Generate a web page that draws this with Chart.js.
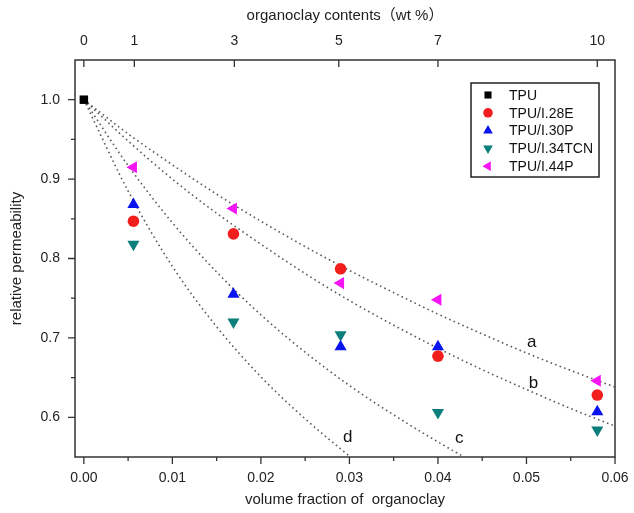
<!DOCTYPE html>
<html lang="en">
<head>
    <meta charset="UTF-8">
    <title>Relative permeability vs organoclay</title>
    <style>
        html, body { margin: 0; padding: 0; background: #fff; }
        #wrap { width: 634px; height: 513px; }
    </style>
    <script src="https://cdn.jsdelivr.net/npm/chart.js@4.4.0/dist/chart.umd.min.js"></script>
</head>
<body>
    <div id="wrap"><canvas id="perm-chart" width="634" height="513"></canvas></div>
    <script>
        // x positions (volume fraction) of the composites, matching 1/3/5/7/10 wt%
        const phi = [0.0056, 0.0169, 0.0290, 0.0400, 0.0580];
        const wtLabels = ['0', '1', '3', '5', '7', '10'];
        const wtPositions = [0, 0.0057, 0.0170, 0.0288, 0.0400, 0.0580];

        const tpu = [1.0];
        const i28e = [0.847, 0.831, 0.787, 0.677, 0.628];
        const i30p = [0.868, 0.755, 0.689, 0.689, 0.607];
        const i34tcn = [0.818, 0.720, 0.704, 0.606, 0.584];
        const i44p = [0.915, 0.863, 0.769, 0.748, 0.646];

        // dotted model curves
        const curveX = [0, 0.005, 0.01, 0.015, 0.02, 0.025, 0.03, 0.035, 0.04, 0.045, 0.05, 0.055, 0.06];
        const curveA = [1.0, 0.957, 0.918, 0.881, 0.847, 0.815, 0.785, 0.757, 0.730, 0.705, 0.681, 0.659, 0.638];
        const curveB = [1.0, 0.948, 0.900, 0.857, 0.818, 0.781, 0.747, 0.716, 0.687, 0.660, 0.635, 0.611, 0.589];
        const curveCX = [0, 0.005, 0.01, 0.015, 0.02, 0.025, 0.03, 0.035, 0.04, 0.0428];
        const curveC = [1.0, 0.917, 0.845, 0.783, 0.729, 0.682, 0.640, 0.603, 0.569, 0.551];
        const curveDX = [0, 0.005, 0.01, 0.015, 0.02, 0.025, 0.03];
        const curveD = [1.0, 0.885, 0.790, 0.714, 0.651, 0.598, 0.551];
        const curveNames = ['a', 'b', 'c', 'd'];
        const curveNameX = [0.0506, 0.0508, 0.0424, 0.0298];
        const curveNameY = [0.694, 0.643, 0.574, 0.575];

        const xTicks = [0, 0.01, 0.02, 0.03, 0.04, 0.05, 0.06];
        const xMinor = [0.005, 0.015, 0.025, 0.035, 0.045, 0.055];
        const yTicks = [0.6, 0.7, 0.8, 0.9, 1.0];
        const yMinor = [0.65, 0.75, 0.85, 0.95];

        const FONT = "'Liberation Sans', Arial, 'Noto Sans CJK SC', sans-serif";
        const AXIS = '#333';

        function pts(xs, ys) {
            return ys.map((v, i) => ({x: xs[i], y: v}));
        }

        function marker(label, data, color, style, rotation, radius, legendRadius) {
            return {
                label: label, data: data, showLine: false,
                backgroundColor: color, borderColor: color, borderWidth: 0,
                pointStyle: style, rotation: rotation, pointRadius: radius, pointHoverRadius: radius,
                legendRadius: legendRadius
            };
        }

        function curve(xs, ys) {
            return {
                label: '', data: pts(xs, ys), showLine: true,
                borderColor: '#5a5a5a', borderWidth: 1.6, borderDash: [1.6, 3.2],
                pointRadius: 0, pointHoverRadius: 0, fill: false,
                cubicInterpolationMode: 'monotone'
            };
        }

        const markerSets = [
            marker('TPU', [{x: 0, y: tpu[0]}], '#000', 'rect', 0, 6, 5),
            marker('TPU/I.28E', pts(phi, i28e), '#f21d1d', 'circle', 0, 5.8, 4.8),
            marker('TPU/I.30P', pts(phi, i30p), '#0a14f0', 'triangle', 0, 7, 5.6),
            marker('TPU/I.34TCN', pts(phi, i34tcn), '#0c7f7c', 'triangle', 180, 7, 5.6),
            marker('TPU/I.44P', pts(phi, i44p), '#f414f4', 'triangle', 270, 7, 5.6)
        ];

        const drawExtras = {
            id: 'drawExtras',
            afterDraw(chart) {
                const ctx = chart.ctx, a = chart.chartArea;
                const xs = chart.scales.x, ys = chart.scales.y, xt = chart.scales.xTop;
                ctx.save();
                ctx.strokeStyle = AXIS;
                ctx.lineWidth = 1.5;
                ctx.strokeRect(a.left, a.top, a.right - a.left, a.bottom - a.top);
                ctx.lineWidth = 1.3;
                ctx.beginPath();
                xTicks.forEach(v => { const p = xs.getPixelForValue(v); ctx.moveTo(p, a.bottom); ctx.lineTo(p, a.bottom + 7); });
                xMinor.forEach(v => { const p = xs.getPixelForValue(v); ctx.moveTo(p, a.bottom); ctx.lineTo(p, a.bottom + 4); });
                yTicks.forEach(v => { const p = ys.getPixelForValue(v); ctx.moveTo(a.left, p); ctx.lineTo(a.left - 7, p); });
                yMinor.forEach(v => { const p = ys.getPixelForValue(v); ctx.moveTo(a.left, p); ctx.lineTo(a.left - 4, p); });
                wtPositions.forEach(v => { const p = xt.getPixelForValue(v); ctx.moveTo(p, a.top); ctx.lineTo(p, a.top + 7); });
                ctx.stroke();

                // curve names
                ctx.fillStyle = '#111';
                ctx.font = '17px ' + FONT;
                ctx.textAlign = 'center';
                ctx.textBaseline = 'middle';
                curveNames.forEach((t, i) => {
                    ctx.fillText(t, xs.getPixelForValue(curveNameX[i]), ys.getPixelForValue(curveNameY[i]));
                });

                // legend box inside the plot
                const bx = 471, by = 83, bw = 128, bh = 94;
                ctx.fillStyle = '#fff';
                ctx.fillRect(bx, by, bw, bh);
                ctx.lineWidth = 1.5;
                ctx.strokeStyle = '#222';
                ctx.strokeRect(bx, by, bw, bh);
                ctx.font = '14px ' + FONT;
                ctx.textAlign = 'left';
                markerSets.forEach((ds, i) => {
                    const cy = by + 12 + i * 17.8;
                    ctx.fillStyle = ds.backgroundColor;
                    ctx.strokeStyle = ds.backgroundColor;
                    Chart.helpers.drawPoint(ctx, {
                        pointStyle: ds.pointStyle, rotation: ds.rotation,
                        radius: ds.legendRadius, borderWidth: 0
                    }, bx + 17, cy);
                    ctx.fillStyle = '#111';
                    ctx.fillText(ds.label, bx + 38, cy + 1);
                });
                ctx.restore();
            }
        };

        const tickFont = {family: FONT, size: 14};
        const titleFont = {family: FONT, size: 15};

        function fitX(h) {
            return s => { s.height = h; s.paddingLeft = 0; s.paddingRight = 0; };
        }

        new Chart(document.getElementById('perm-chart').getContext('2d'), {
            type: 'scatter',
            data: {
                datasets: markerSets.concat([
                    curve(curveX, curveA),
                    curve(curveX, curveB),
                    curve(curveCX, curveC),
                    curve(curveDX, curveD)
                ])
            },
            options: {
                responsive: false,
                animation: false,
                layout: {padding: {left: 0, right: 19, top: 0, bottom: 0}},
                plugins: {legend: {display: false}, tooltip: {enabled: false}},
                scales: {
                    x: {
                        type: 'linear', position: 'bottom', min: -0.001, max: 0.06,
                        afterBuildTicks: s => { s.ticks = xTicks.map(v => ({value: v})); },
                        afterFit: fitX(56),
                        grid: {display: false, drawTicks: false},
                        border: {display: false},
                        ticks: {font: tickFont, color: '#222', padding: 13, maxRotation: 0,
                            callback: v => Number(v).toFixed(2)},
                        title: {display: true, text: 'volume fraction of  organoclay', font: titleFont,
                            color: '#222', padding: {top: 0, bottom: 4}}
                    },
                    xTop: {
                        type: 'linear', position: 'top', min: -0.001, max: 0.06,
                        afterBuildTicks: s => { s.ticks = wtPositions.map(v => ({value: v})); },
                        afterFit: fitX(60),
                        grid: {display: false, drawTicks: false},
                        border: {display: false},
                        ticks: {font: tickFont, color: '#222', padding: 10, maxRotation: 0,
                            callback: (v, i) => wtLabels[i]},
                        title: {display: true, text: 'organoclay contents（wt %）', font: titleFont,
                            color: '#222', padding: {top: 7, bottom: 0}}
                    },
                    y: {
                        type: 'linear', position: 'left', min: 0.55, max: 1.05,
                        afterBuildTicks: s => { s.ticks = yTicks.map(v => ({value: v})); },
                        afterFit: s => { s.width = 75; s.paddingTop = 0; s.paddingBottom = 0; },
                        grid: {display: false, drawTicks: false},
                        border: {display: false},
                        ticks: {font: tickFont, color: '#222', padding: 15,
                            callback: v => Number(v).toFixed(1)},
                        title: {display: true, text: 'relative permeability', font: titleFont,
                            color: '#222', padding: {top: 8, bottom: 0}}
                    }
                }
            },
            plugins: [drawExtras]
        });
    </script>
</body>
</html>
